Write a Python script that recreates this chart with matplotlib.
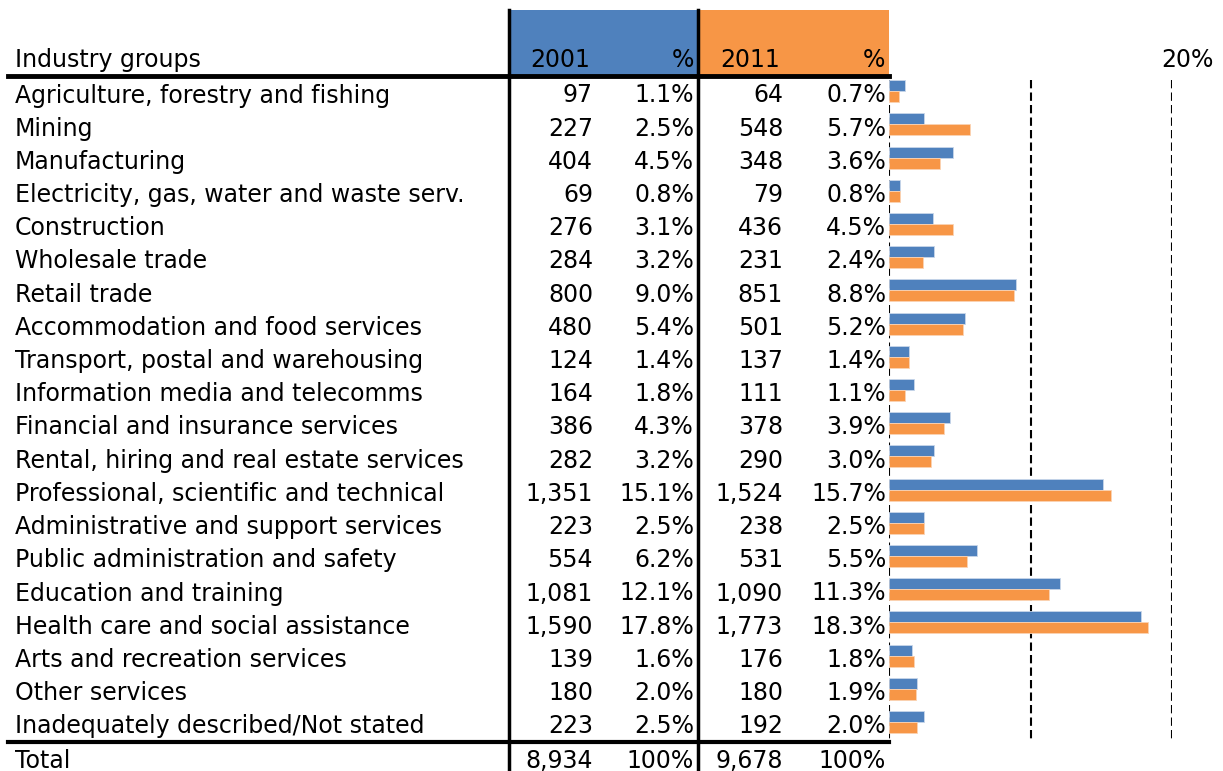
import numpy as np
import matplotlib.pyplot as plt

plt.rcParams['font.family'] = ['DejaVu Sans']

industries = [
    "Agriculture, forestry and fishing", "Mining", "Manufacturing",
    "Electricity, gas, water and waste serv.", "Construction", "Wholesale trade",
    "Retail trade", "Accommodation and food services",
    "Transport, postal and warehousing", "Information media and telecomms",
    "Financial and insurance services", "Rental, hiring and real estate services",
    "Professional, scientific and technical", "Administrative and support services",
    "Public administration and safety", "Education and training",
    "Health care and social assistance", "Arts and recreation services",
    "Other services", "Inadequately described/Not stated",
]
count_2001 = [97, 227, 404, 69, 276, 284, 800, 480, 124, 164, 386, 282,
              1351, 223, 554, 1081, 1590, 139, 180, 223]
pct_2001 = [1.1, 2.5, 4.5, 0.8, 3.1, 3.2, 9.0, 5.4, 1.4, 1.8, 4.3, 3.2,
            15.1, 2.5, 6.2, 12.1, 17.8, 1.6, 2.0, 2.5]
count_2011 = [64, 548, 348, 79, 436, 231, 851, 501, 137, 111, 378, 290,
              1524, 238, 531, 1090, 1773, 176, 180, 192]
pct_2011 = [0.7, 5.7, 3.6, 0.8, 4.5, 2.4, 8.8, 5.2, 1.4, 1.1, 3.9, 3.0,
            15.7, 2.5, 5.5, 11.3, 18.3, 1.8, 1.9, 2.0]
total_2001 = 8934
total_2011 = 9678

BLUE = '#4F81BD'
ORANGE = '#F79646'
W, H = 1223, 771
fs = 17

fig = plt.figure(figsize=(W / 100, H / 100), dpi=100)

# table layer in pixel coordinates
ax = fig.add_axes([0, 0, 1, 1])
ax.set_xlim(0, W)
ax.set_ylim(H, 0)
ax.axis('off')

row0, step = 94, 33.2
n = len(industries)
dy = 1.5  # text sits a bit lower than the row centre

# header boxes
ax.add_patch(plt.Rectangle((509, 10), 189, 66, color=BLUE, lw=0))
ax.add_patch(plt.Rectangle((698, 10), 191, 66, color=ORANGE, lw=0))
hy = 60
ax.text(15, hy, "Industry groups", fontsize=fs, va='center')
ax.text(590, hy, "2001", fontsize=fs, va='center', ha='right')
ax.text(694, hy, "%", fontsize=fs, va='center', ha='right')
ax.text(780, hy, "2011", fontsize=fs, va='center', ha='right')
ax.text(885, hy, "%", fontsize=fs, va='center', ha='right')
ax.text(1187, hy, "20%", fontsize=fs, va='center', ha='center')

for i in range(n):
    y = row0 + i * step + dy
    ax.text(15, y, industries[i], fontsize=fs, va='center')
    ax.text(593, y, f"{count_2001[i]:,}", fontsize=fs, va='center', ha='right')
    ax.text(694, y, f"{pct_2001[i]:.1f}%", fontsize=fs, va='center', ha='right')
    ax.text(783, y, f"{count_2011[i]:,}", fontsize=fs, va='center', ha='right')
    ax.text(886, y, f"{pct_2011[i]:.1f}%", fontsize=fs, va='center', ha='right')

ty = 761
ax.text(15, ty, "Total", fontsize=fs, va='center')
ax.text(593, ty, f"{total_2001:,}", fontsize=fs, va='center', ha='right')
ax.text(694, ty, "100%", fontsize=fs, va='center', ha='right')
ax.text(783, ty, f"{total_2011:,}", fontsize=fs, va='center', ha='right')
ax.text(886, ty, "100%", fontsize=fs, va='center', ha='right')

# rules
ax.plot([509, 509], [10, H], color='black', lw=2.5)
ax.plot([698, 698], [10, H], color='black', lw=2.5)
ax.plot([8, 889], [76, 76], color='black', lw=3.5)
ax.plot([8, 889], [742, 742], color='black', lw=3)

# bar layer
top_px, bot_px = row0 - step / 2, row0 + (n - 0.5) * step
left_px, right_px = 889, 1172
bx = fig.add_axes([left_px / W, 1 - bot_px / H, (right_px - left_px) / W,
                   (bot_px - top_px) / H])
bx.patch.set_alpha(0)
bx.set_xlim(0, 20)
bx.set_ylim(n - 0.5, -0.5)
yy = np.arange(n)
h = 0.33
bx.barh(yy - 0.25, pct_2001, height=h, color=BLUE, edgecolor='#c8d6ea', lw=0.6)
bx.barh(yy + 0.08, pct_2011, height=h, color=ORANGE, edgecolor='#fbd3b3', lw=0.6)
for v in (0, 10, 20):
    bx.plot([v, v], [-0.42, n - 0.35], color='black', lw=1.5,
            dashes=(4, 2), zorder=0)
bx.axis('off')

fig.savefig('out.png', dpi=100)
